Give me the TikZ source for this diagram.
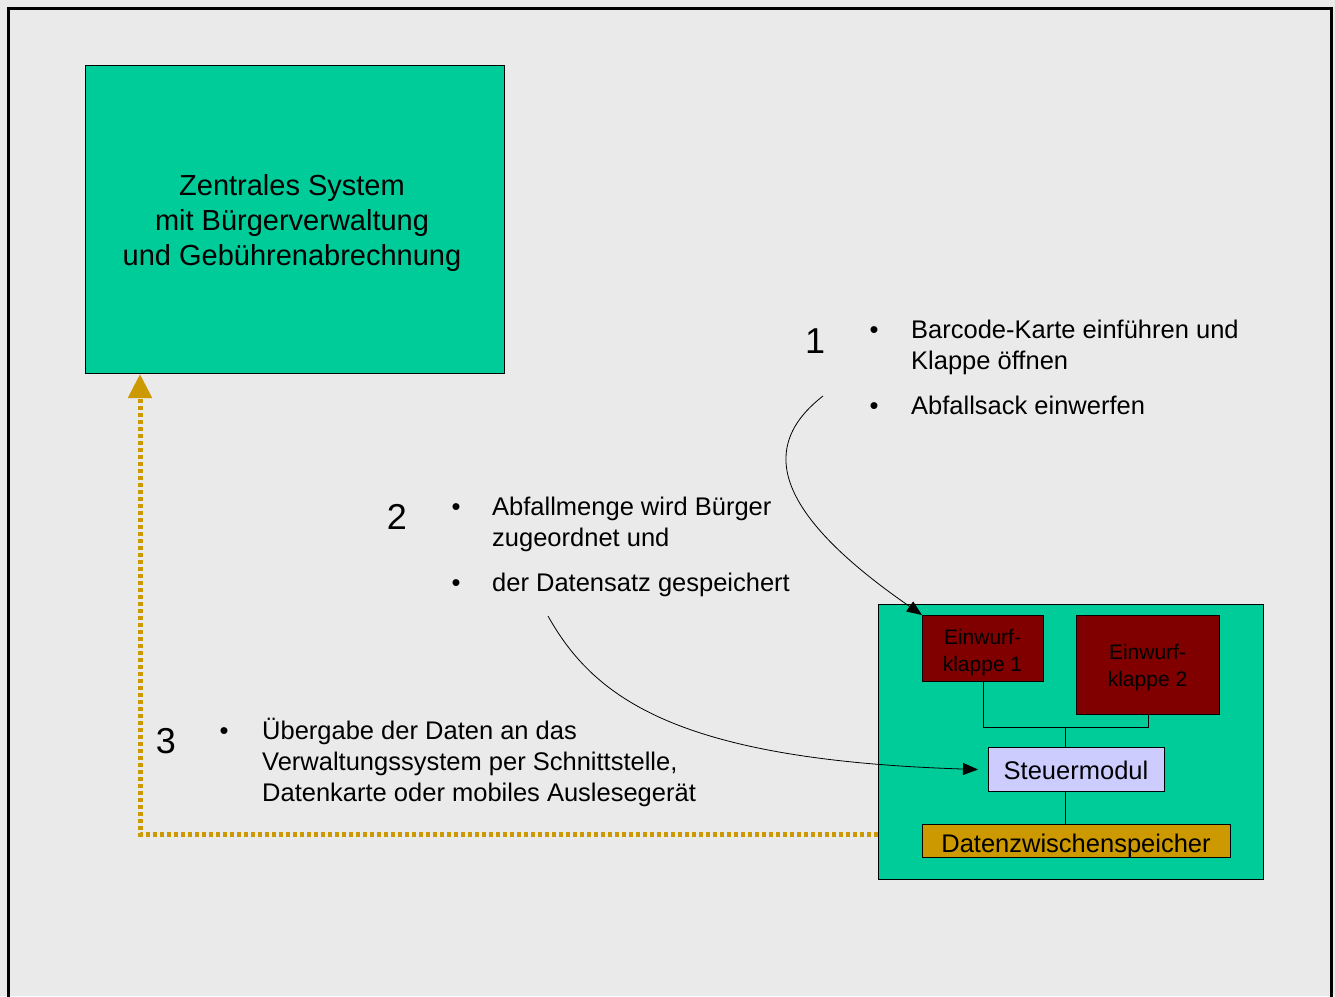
\documentclass[tikz,border=0pt]{standalone}
\usepackage{fontspec}
\setmainfont{Liberation Sans}
\usetikzlibrary{arrows.meta,calc}
\definecolor{bggray}{HTML}{EAEAEA}
\definecolor{sysgreen}{HTML}{00CC99}
\definecolor{klapperot}{HTML}{800000}
\definecolor{lavendel}{HTML}{CCCCFF}
\definecolor{gold}{HTML}{CC9900}
\tikzset{
  box/.style={draw=black, line width=1pt, inner sep=0pt, anchor=north west, align=center},
  boxtext/.style={inner sep=0pt, align=center},
  bullettext/.style={anchor=base west, align=left, inner sep=0pt, font=\fontsize{25.5}{31}\selectfont},
  bulletdot/.style={anchor=base, inner sep=0pt, font=\fontsize{25.5}{31}\selectfont},
  bignum/.style={anchor=base, inner sep=0pt, font=\fontsize{36}{40}\selectfont},
  curvearrow/.style={draw=black, line width=0.8pt, -{Triangle[length=15pt,width=12pt]}},
  conn/.style={draw=black, line width=1pt},
  dotline/.style={draw=gold, line width=5pt, dash pattern=on 4pt off 3pt, -{Triangle[length=24pt,width=23pt,fill=gold]}}
}
\begin{document}
\begin{tikzpicture}[x=1pt,y=-1pt]
\useasboundingbox (0,0) rectangle (1335,996);
\fill[bggray] (0,0) rectangle (1335,996);
\begin{scope}
\clip (0,0) rectangle (1335,996);
\draw[line width=3pt] (8,8) rectangle (1331.5,1010);
\end{scope}

% central system
\node[box, fill=sysgreen, minimum width=419pt, minimum height=308pt] (main) at (85,65) {};
\node[boxtext, font=\fontsize{29}{35}\selectfont, anchor=base] (maintext) at (292,265)
  {Zentrales System\\mit Bürgerverwaltung\\und Gebührenabrechnung};

% inner device box
\node[box, fill=sysgreen, minimum width=385pt, minimum height=275pt] (inner) at (878,604) {};
\node[box, fill=klapperot, minimum width=121pt, minimum height=66pt] (k1) at (922,615) {};
\node[boxtext, font=\fontsize{21}{27}\selectfont] (k1text) at (982.5,653) {Einwurf-\\klappe 1};
\node[box, fill=klapperot, minimum width=143pt, minimum height=99pt] (k2) at (1076,615) {};
\node[boxtext, font=\fontsize{21}{27}\selectfont] (k2text) at (1147.5,667.5) {Einwurf-\\klappe 2};
\node[box, fill=lavendel, minimum width=176pt, minimum height=44pt] (steuer) at (988,747) {};
\node[boxtext, font=\fontsize{25.5}{31}\selectfont, anchor=base] (steuertext) at (1076,779) {Steuermodul};
\node[box, fill=gold, minimum width=308pt, minimum height=33pt] (daten) at (922,824) {};
\node[boxtext, font=\fontsize{25.5}{31}\selectfont, anchor=base] (datentext) at (1076,852) {Datenzwischenspeicher};

\coordinate (j) at (1065,727);
\draw[conn] (k1.south) |- (j) -| (k2.south);
\draw[conn] (j) -- (j |- steuer.north);
\draw[conn] (steuer.south -| j) -- (daten.north -| j);

% step 1
\node[bignum] (n1) at (815,353) {1};
\node[bulletdot] (b1a) at (874,338) {•};
\node[bullettext] (t1a) at (911,369) {Barcode-Karte einführen und\\Klappe öffnen};
\node[bulletdot] (b1b) at (874,414) {•};
\node[bullettext] (t1b) at (911,414) {Abfallsack einwerfen};

% step 2
\node[bignum] (n2) at (397,529) {2};
\node[bulletdot] (b2a) at (456,515) {•};
\node[bullettext] (t2a) at (492,546) {Abfallmenge wird Bürger\\zugeordnet und};
\node[bulletdot] (b2b) at (456,591) {•};
\node[bullettext] (t2b) at (492,591) {der Datensatz gespeichert};

% step 3
\node[bignum] (n3) at (166,753) {3};
\node[bulletdot] (b3a) at (224,739) {•};
\node[bullettext] (t3a) at (262,801) {Übergabe der Daten an das\\Verwaltungssystem per Schnittstelle,\\Datenkarte oder mobiles Auslesegerät};

% curved arrows
\coordinate (s1) at (823,396);
\draw[curvearrow] (s1) .. controls (760,445) and (770,510) .. (k1.north west);
\coordinate (s2) at (548,616);
\draw[curvearrow] (s2) .. controls (595,700) and (680,760) .. ([xshift=-10pt]steuer.west);

% dotted return line
\draw[dotline] ($(inner.south west)+(0,-46)$) -| ([xshift=55pt]main.south west);
\end{tikzpicture}
\end{document}
